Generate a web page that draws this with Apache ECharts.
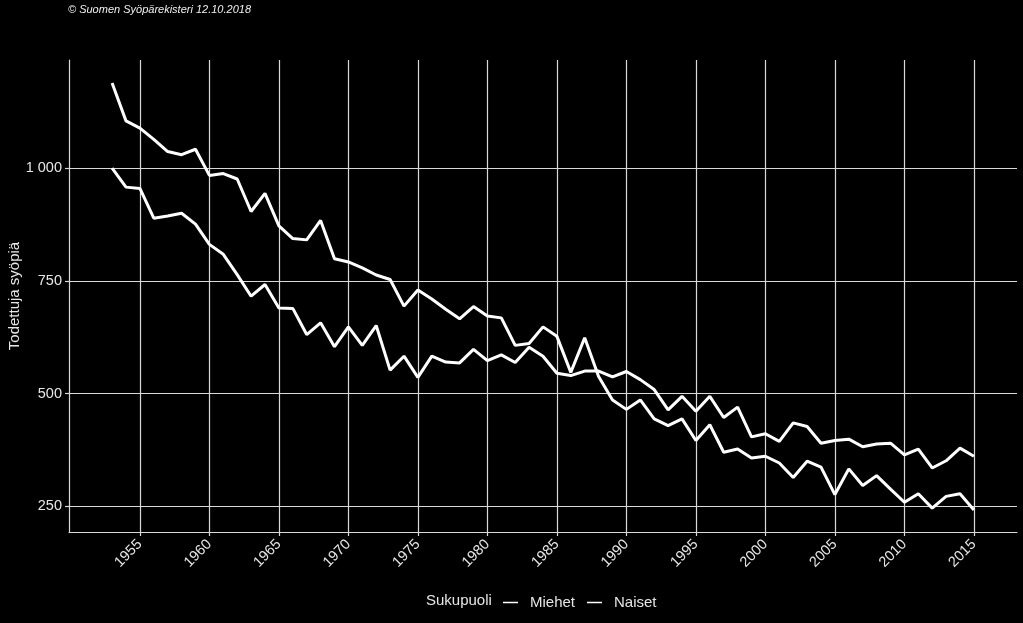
<!DOCTYPE html>
<html>
<head>
<meta charset="utf-8">
<script src="https://cdn.jsdelivr.net/npm/echarts@6/dist/echarts.min.js"></script>
<style>
  html, body { margin: 0; padding: 0; background: #000; }
  #chart { width: 1023px; height: 623px; }
</style>
</head>
<body>
<div id="chart"></div>
<script>
const years = [];
for (let y = 1953; y <= 2015; y++) years.push(y);

const miehet = [
  1189, 1105, 1089, 1064, 1037, 1030, 1042, 984, 988, 976,
  904, 944, 872, 844, 841, 884, 799, 792, 779, 763,
  753, 694, 730, 710, 687, 666, 693, 672, 668, 607,
  611, 648, 627, 547, 624, 538, 486, 465, 486, 444,
  429, 444, 396, 431, 370, 377, 357, 361, 346, 314,
  350, 337, 276, 333, 296, 318, 288, 259, 278, 246,
  272, 278, 242
];

const naiset = [
  1000, 958, 955, 889, 894, 900, 876, 831, 809, 764,
  716, 742, 690, 689, 631, 657, 604, 648, 607, 651,
  552, 583, 536, 583, 570, 568, 598, 573, 586, 569,
  603, 583, 545, 540, 550, 550, 537, 549, 531, 509,
  464, 494, 461, 494, 447, 470, 404, 411, 394, 435,
  427, 390, 396, 399, 382, 388, 390, 364, 377, 335,
  351, 379, 361
];

const xTicks = [1955, 1960, 1965, 1970, 1975, 1980, 1985, 1990, 1995, 2000, 2005, 2010, 2015];
const yTicks = [250, 500, 750, 1000];

const seriesNames = ['Miehet', 'Naiset'];
const legendTitle = 'Sukupuoli';
const yName = 'Todettuja syöpiä';
const caption = '© Suomen Syöpärekisteri 12.10.2018';

const font = '"Liberation Sans", Arial, sans-serif';
const gridColor = '#d9d9d9';
const textColor = '#e6e6e6';

function pairs(vals) { return years.map((y, i) => [y, vals[i]]); }
function fmt(v) { return String(v).replace(/\B(?=(\d{3})+(?!\d))/g, ' '); }

const chart = echarts.init(document.getElementById('chart'), null, { renderer: 'canvas' });
chart.setOption({
  backgroundColor: '#000',
  animation: false,
  textStyle: { fontFamily: font },
  grid: { left: 69, right: 6, top: 60, bottom: 91, containLabel: false, outerBoundsMode: 'none' },
  xAxis: {
    type: 'value',
    min: 1949.9,
    max: 2018.1,
    axisLine: { show: true, lineStyle: { color: gridColor, width: 1.2 } },
    axisTick: { show: true, length: 4, customValues: xTicks, lineStyle: { color: gridColor, width: 1.2 } },
    axisLabel: {
      customValues: xTicks,
      rotate: 45,
      margin: 10,
      color: textColor,
      fontSize: 14.5,
      fontFamily: font,
      formatter: v => String(v)
    },
    splitLine: { show: true, lineStyle: { color: gridColor, width: 1.2 } }
  },
  yAxis: {
    type: 'value',
    min: 193,
    max: 1240,
    name: yName,
    nameLocation: 'middle',
    nameGap: 47,
    nameRotate: 90,
    nameMoveOverlap: false,
    nameTextStyle: { color: textColor, fontSize: 15, fontFamily: font },
    axisLine: { show: true, lineStyle: { color: gridColor, width: 1.2 } },
    axisTick: { show: true, length: 4, customValues: yTicks, lineStyle: { color: gridColor, width: 1.2 } },
    axisLabel: {
      customValues: yTicks,
      margin: 7,
      color: textColor,
      fontSize: 14.5,
      fontFamily: font,
      formatter: v => fmt(v)
    },
    splitLine: { show: true, lineStyle: { color: gridColor, width: 1.2 } }
  },
  legend: {
    data: seriesNames,
    left: 498,
    top: 590,
    icon: 'rect',
    itemWidth: 15,
    itemHeight: 1.5,
    itemGap: 12,
    textStyle: { color: textColor, fontSize: 15, fontFamily: font, padding: [0, 0, 0, 7] }
  },
  graphic: [
    {
      type: 'text',
      left: 426,
      top: 593,
      style: { text: legendTitle, fill: textColor, fontSize: 15, fontFamily: font }
    },
    {
      type: 'text',
      left: 68,
      top: 4,
      style: { text: caption, fill: '#f0f0f0', fontSize: 11, fontStyle: 'italic', fontFamily: font }
    }
  ],
  series: seriesNames.map((name, k) => ({
    name: name,
    type: 'line',
    data: pairs(k === 0 ? miehet : naiset),
    symbol: 'none',
    showSymbol: false,
    lineStyle: { color: '#ffffff', width: 3 },
    itemStyle: { color: '#ffffff' }
  }))
});
</script>
</body>
</html>
